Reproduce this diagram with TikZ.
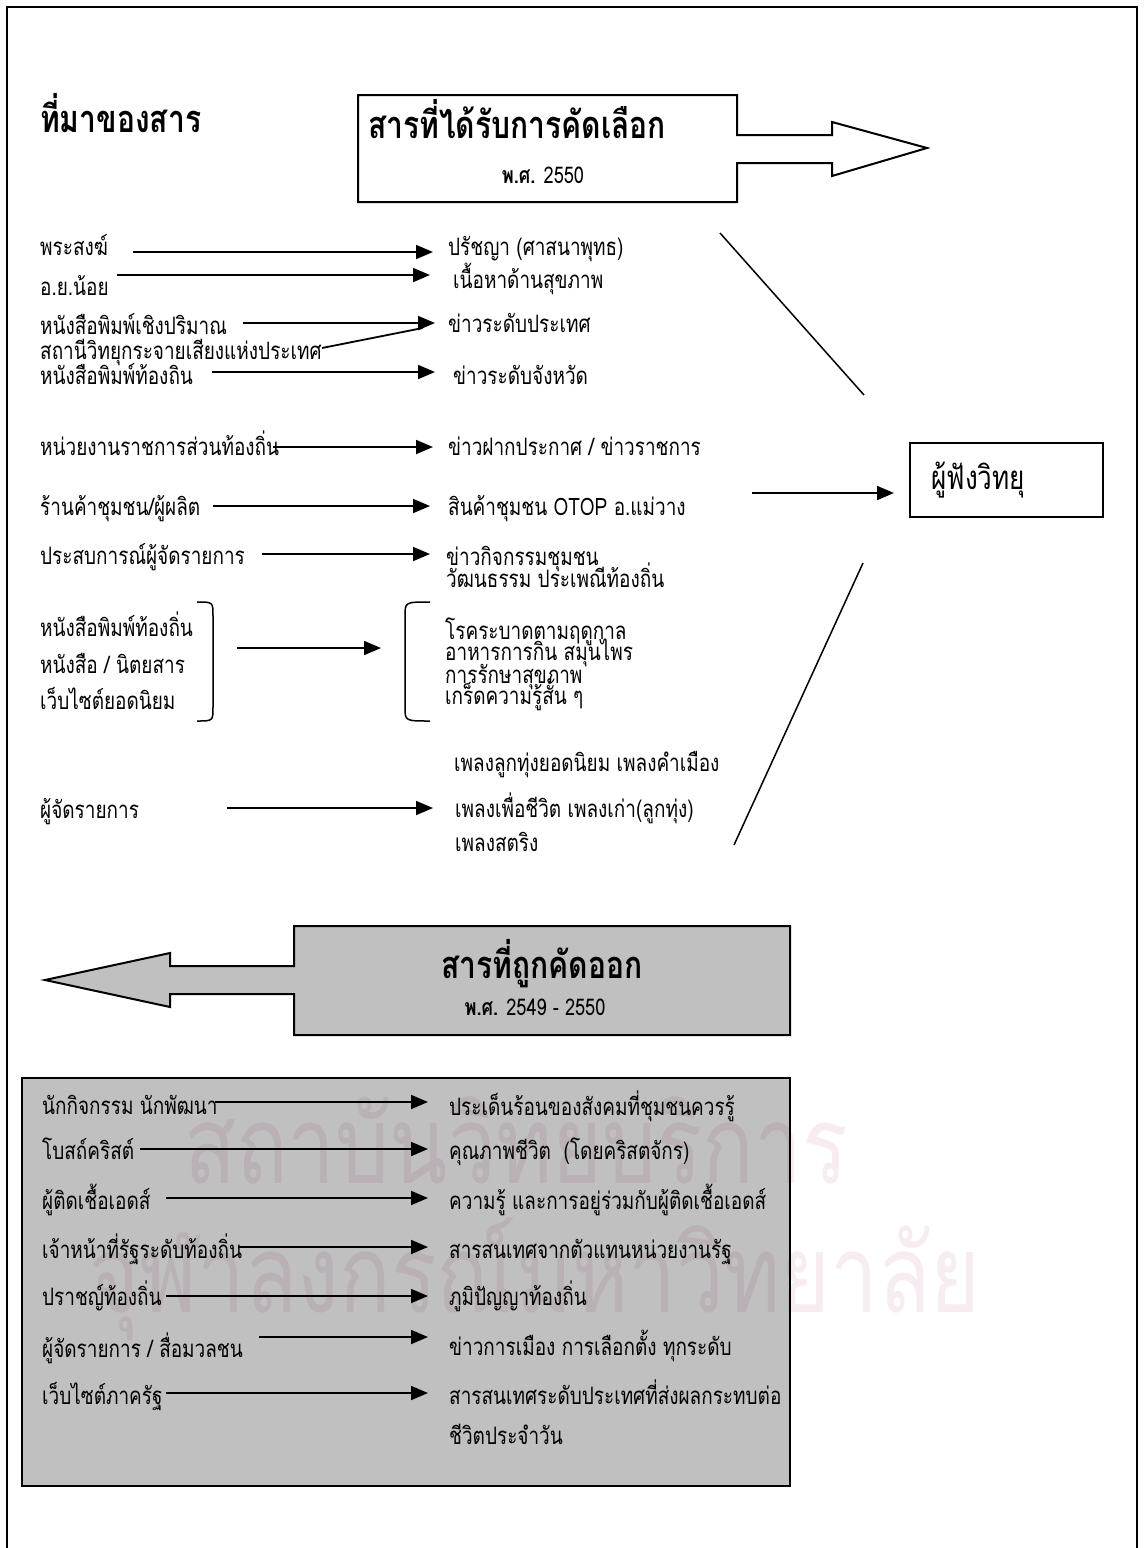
\documentclass[tikz,border=0pt]{standalone}
\usepackage{fontspec}
\setmainfont[Script=Thai, FakeStretch=0.79]{Loma}
\usepackage{tikz}
\usetikzlibrary{arrows.meta}
\definecolor{boxgrey}{HTML}{C0C0C0}
\definecolor{stampink}{HTML}{F6ECF1}

\begin{document}
\begin{tikzpicture}[x=1pt,y=-1pt]
\tikzstyle{src} = [anchor=base west, inner sep=0pt, font=\fontsize{24}{28}\selectfont]
\tikzstyle{head} = [anchor=base west, inner sep=0pt, font=\bfseries\fontsize{38}{44}\selectfont]
\tikzstyle{sub} = [anchor=base, inner sep=0pt, font=\fontsize{23}{27}\selectfont]
\tikzstyle{arr} = [-{Triangle[length=17pt,width=14pt]}, line width=1.8pt, shorten >=15pt]
\tikzstyle{plain} = [line width=1.5pt]
\tikzstyle{outline} = [draw=black, line width=2pt]
\tikzstyle{stamp} = [anchor=base, inner sep=0pt, text=stampink, font=\fontsize{108}{112}\selectfont]

\useasboundingbox (0,0) rectangle (1145,1548);
\draw[line width=2pt] (7,1552) -- (7,7) -- (1137,7) -- (1137,1552);

\node[head] (hsrc) at (40,132) {ที่มาของสาร};

\draw[outline, fill=white] (358,95) -- (737,95) -- (737,135) -- (832,135) -- (832,122) -- (927,148) -- (832,176) -- (832,163) -- (737,163) -- (737,202) -- (358,202) -- cycle;
\node[head, anchor=base] (sel) at (517,138) {สารที่ได้รับการคัดเลือก};
\node[sub] (selyr) at (543,183) {\textbf{พ.ศ.} 2550};

\node[src] (s1) at (40,255) {พระสงฆ์};
\node[src] (s2) at (40,295) {อ.ย.น้อย};
\node[src] (s3) at (40,334) {หนังสือพิมพ์เชิงปริมาณ};
\node[src] (s4) at (40,359) {สถานีวิทยุกระจายเสียงแห่งประเทศ};
\node[src] (s5) at (40,384) {หนังสือพิมพ์ท้องถิน};
\node[src] (s6) at (40,455) {หน่วยงานราชการส่วนท้องถิ่น};
\node[src] (s7) at (40,515) {ร้านค้าชุมชน/ผู้ผลิต};
\node[src] (s8) at (40,564) {ประสบการณ์ผู้จัดรายการ};
\node[src] (s9) at (40,636) {หนังสือพิมพ์ท้องถิ่น};
\node[src] (s10) at (40,673) {หนังสือ / นิตยสาร};
\node[src] (s11) at (40,709) {เว็บไซต์ยอดนิยม};
\node[src] (s12) at (40,818) {ผู้จัดรายการ};

\node[src] (t1) at (448,255) {ปรัชญา (ศาสนาพุทธ)};
\node[src] (t2) at (453,288) {เนื้อหาด้านสุขภาพ};
\node[src] (t3) at (448,332) {ข่าวระดับประเทศ};
\node[src] (t4) at (453,384) {ข่าวระดับจังหวัด};
\node[src] (t5) at (448,455) {ข่าวฝากประกาศ / ข่าวราชการ};
\node[src] (t6) at (448,515) {สินค้าชุมชน OTOP อ.แม่วาง};
\node[src] (t7) at (446,565) {ข่าวกิจกรรมชุมชน};
\node[src] (t8) at (446,587) {วัฒนธรรม ประเพณีท้องถิ่น};
\node[src] (t9) at (445,639) {โรคระบาดตามฤดูกาล};
\node[src] (t10) at (445,660) {อาหารการกิน สมุนไพร};
\node[src] (t11) at (445,683) {การรักษาสุขภาพ};
\node[src] (t12) at (445,704) {เกร็ดความรู้สั้น ๆ};
\node[src] (t13) at (454,771) {เพลงลูกทุ่งยอดนิยม เพลงคำเมือง};
\node[src] (t14) at (455,817) {เพลงเพื่อชีวิต เพลงเก่า(ลูกทุ่ง)};
\node[src] (t15) at (455,851) {เพลงสตริง};

\coordinate (a1) at (133,252);
\coordinate (a2) at (117,275);
\coordinate (a3) at (243,323);
\coordinate (a4) at (322,348);
\coordinate (a5) at (212,372);
\coordinate (a6) at (273,447);
\coordinate (a7) at (213,506);
\coordinate (a8) at (262,554);
\coordinate (a9) at (237,648);
\coordinate (a10) at (227,808);
\coordinate (rbr) at (213,661);
\coordinate (lbr) at (405,661);

\path (a1) edge[arr] (a1 -| t1.west);
\path (a2) edge[arr, shorten >=23pt] (a2 -| t2.west);
\path (a3) edge[arr, shorten >=13pt] (a3 -| t3.west);
\path (a4) edge[plain, line width=1.8pt, shorten >=26pt] (a3 -| t3.west);
\path (a5) edge[arr, shorten >=18pt] (a5 -| t4.west);
\path (a6) edge[arr] (a6 -| t5.west);
\path (a7) edge[arr, shorten >=18pt] (a7 -| t6.west);
\path (a8) edge[arr, shorten >=16pt] (a8 -| t7.west);
\path (a9) edge[arr, shorten >=24pt] (a9 -| lbr);
\path (a10) edge[arr, shorten >=22pt] (a10 -| t14.west);

\draw[plain] (197,602) .. controls (213,602) .. (213,616) -- (213,707) .. controls (213,721) .. (197,721);
\draw[plain] (430,602) .. controls (405,602) .. (405,616) -- (405,707) .. controls (405,721) .. (430,721);

\node[draw, line width=2pt, minimum width=193pt, minimum height=74pt, text width=150pt, align=left, inner sep=0pt, font=\fontsize{33}{38}\selectfont] (lis) at (1006.5,480) {ผู้ฟังวิทยุ};
\coordinate (a11) at (752,493);
\path (a11) edge[arr] (a11 -| lis.west);

\coordinate (d1) at (720,233);
\coordinate (d2) at (864,395);
\coordinate (d3) at (863,563);
\coordinate (d4) at (734,845);
\draw[plain] (d1) -- (d2);
\draw[plain] (d3) -- (d4);

\draw[outline, fill=boxgrey] (790,926) -- (294,926) -- (294,966) -- (170,966) -- (170,953) -- (45,980) -- (170,1007) -- (170,994) -- (294,994) -- (294,1035) -- (790,1035) -- cycle;
\node[head, anchor=base] (rej) at (542,978) {สารที่ถูกคัดออก};
\node[sub] (rejyr) at (535,1015) {\textbf{พ.ศ.} 2549 - 2550};

\node[draw, line width=2pt, fill=boxgrey, minimum width=768pt, minimum height=408pt, inner sep=0pt] (outbox) at (406,1282) {};

\begin{scope}[blend mode=multiply]
\node[stamp] (wm1) at (516,1183) {สถาบันวิทยบริการ};
\node[stamp] (wm2) at (535,1312) {จุฬาลงกรณ์มหาวิทยาลัย};
\end{scope}

\node[src] (u1) at (42,1114) {นักกิจกรรม นักพัฒนา};
\node[src] (u2) at (42,1159) {โบสถ์คริสต์};
\node[src] (u3) at (42,1209) {ผู้ติดเชื้อเอดส์};
\node[src] (u4) at (42,1258) {เจ้าหน้าที่รัฐระดับท้องถิ่น};
\node[src] (u5) at (42,1305) {ปราชญ์ท้องถิ่น};
\node[src] (u6) at (42,1357) {ผู้จัดรายการ / สื่อมวลชน};
\node[src] (u7) at (42,1404) {เว็บไซต์ภาครัฐ};

\node[src] (v1) at (449,1115) {ประเด็นร้อนของสังคมที่ชุมชนควรรู้};
\node[src] (v2) at (449,1159) {คุณภาพชีวิต ~(โดยคริสตจักร)};
\node[src] (v3) at (449,1209) {ความรู้ และการอยู่ร่วมกับผู้ติดเชื้อเอดส์};
\node[src] (v4) at (449,1258) {สารสนเทศจากตัวแทนหน่วยงานรัฐ};
\node[src] (v5) at (449,1305) {ภูมิปัญญาท้องถิ่น};
\node[src] (v6) at (449,1355) {ข่าวการเมือง การเลือกตั้ง ทุกระดับ};
\node[src] (v7) at (449,1404) {สารสนเทศระดับประเทศที่ส่งผลกระทบต่อ};
\node[src] (v8) at (449,1444) {ชีวิตประจำวัน};

\coordinate (b1) at (215,1102);
\coordinate (b2) at (140,1149);
\coordinate (b3) at (166,1198);
\coordinate (b4) at (238,1247);
\coordinate (b5) at (166,1296);
\coordinate (b6) at (259,1337);
\coordinate (b7) at (166,1393);

\path (b1) edge[arr, shorten >=21pt] (b1 -| v1.west);
\path (b2) edge[arr, shorten >=21pt] (b2 -| v2.west);
\path (b3) edge[arr, shorten >=21pt] (b3 -| v3.west);
\path (b4) edge[arr, shorten >=21pt] (b4 -| v4.west);
\path (b5) edge[arr, shorten >=21pt] (b5 -| v5.west);
\path (b6) edge[arr, shorten >=21pt] (b6 -| v6.west);
\path (b7) edge[arr, shorten >=21pt] (b7 -| v7.west);
\end{tikzpicture}
\end{document}
